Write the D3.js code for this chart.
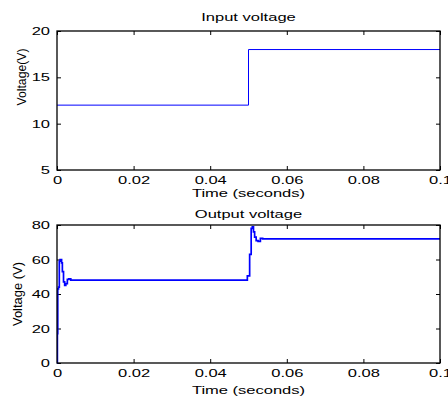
<!DOCTYPE html>
<html>
<head>
<meta charset="utf-8">
<script src="https://cdn.jsdelivr.net/npm/d3@7"></script>
<style>
  html, body { margin: 0; padding: 0; background: #fff; overflow: hidden; }
  svg { display: block; }
  text { font-family: "Liberation Sans", Arial, Helvetica, sans-serif; fill: #000; }
</style>
</head>
<body>
<svg id="chart" width="448" height="396"></svg>
<script>
// Shared time axis
const timeTicks = [0, 0.02, 0.04, 0.06, 0.08, 0.1];
const timeTickLabels = ["0", "0.02", "0.04", "0.06", "0.08", "0.1"];

// Input voltage: step from 12 V to 18 V at 0.05 s
const inputTime = [0, 0.05, 0.1];
const inputVolts = [12, 18, 18];
const inputTicks = [5, 10, 15, 20];

// Output voltage response
const outputTime = [0, 0.0001, 0.0002, 0.0004, 0.0006, 0.0008, 0.0012, 0.0014, 0.0017, 0.0020,
  0.0023, 0.0027, 0.0031, 0.0036, 0.0497, 0.0503, 0.0507, 0.0510, 0.0513, 0.0516,
  0.0520, 0.0525, 0.0531, 0.0537, 0.1];
const outputVolts = [0, 17, 43, 44, 59, 60, 58, 53, 47, 45,
  46, 48.5, 48.8, 48, 50.5, 63, 78, 79, 76, 73,
  71, 70.5, 72.3, 72, 72];
const outputTicks = [0, 20, 40, 60, 80];

const svg = d3.select("#chart");
const FS = 11;
const STRETCH = 1.5;

// widen text horizontally, the way the exported figure renders it
function stretch(sel, factor) {
  sel.each(function () {
    const w = this.getComputedTextLength();
    d3.select(this).attr("textLength", w * factor).attr("lengthAdjust", "spacingAndGlyphs");
  });
}

function panel(cfg) {
  const { left, right, top, bottom } = cfg;
  const x = d3.scaleLinear().domain([0, 0.1]).range([left, right]);
  const y = d3.scaleLinear().domain(cfg.yDomain).range([bottom, top]);
  const g = svg.append("g");

  const clipId = "clip" + cfg.id;
  svg.append("clipPath").attr("id", clipId)
    .append("rect").attr("x", left).attr("y", top - 1)
    .attr("width", right - left).attr("height", bottom - top + 2);

  // bottom axis with labels
  const ax = g.append("g").attr("transform", `translate(0,${bottom})`)
    .call(d3.axisBottom(x).tickValues(timeTicks).tickSize(-4).tickPadding(6)
      .tickFormat((d, i) => timeTickLabels[i]));
  // top axis ticks
  g.append("g").attr("transform", `translate(0,${top})`)
    .call(d3.axisTop(x).tickValues(timeTicks).tickSize(-4).tickFormat(""));
  // left axis with labels
  const ay = g.append("g").attr("transform", `translate(${left},0)`)
    .call(d3.axisLeft(y).tickValues(cfg.yTicks).tickSize(-4).tickPadding(7));
  // right axis ticks
  g.append("g").attr("transform", `translate(${right},0)`)
    .call(d3.axisRight(y).tickValues(cfg.yTicks).tickSize(-4).tickFormat(""));

  g.selectAll(".domain").remove();
  g.selectAll(".tick line").attr("stroke", "#000").attr("stroke-width", 1);
  g.selectAll(".tick text").attr("font-size", FS).attr("font-family", null).attr("fill", "#000");
  stretch(ax.selectAll(".tick text"), STRETCH);
  stretch(ay.selectAll(".tick text"), STRETCH);

  // data line
  const line = d3.line().x(d => x(d[0])).y(d => y(d[1])).curve(d3.curveStepAfter);
  const pts = cfg.t.map((t, i) => [t, cfg.v[i]]);
  g.append("path").datum(pts)
    .attr("clip-path", `url(#${clipId})`)
    .attr("fill", "none").attr("stroke", "#0000ff")
    .attr("stroke-width", cfg.lineWidth)
    .attr("d", line);

  // axes box
  g.append("rect").attr("x", left).attr("y", top)
    .attr("width", right - left).attr("height", bottom - top)
    .attr("fill", "none").attr("stroke", "#000").attr("stroke-width", 1.3);

  // titles
  const cx = (left + right) / 2;
  stretch(g.append("text").attr("x", cx).attr("y", cfg.titleY)
    .attr("text-anchor", "middle").attr("font-size", FS).text(cfg.title), STRETCH);
  stretch(g.append("text").attr("x", cx).attr("y", cfg.xLabelY)
    .attr("text-anchor", "middle").attr("font-size", FS).text("Time (seconds)"), STRETCH);
  g.append("text")
    .attr("transform", `translate(${cfg.yLabelX},${cfg.yLabelCY}) rotate(-90)`)
    .attr("text-anchor", "middle").attr("font-size", 13)
    .attr("textLength", cfg.yLabelLen).attr("lengthAdjust", "spacingAndGlyphs")
    .text(cfg.yLabel);
}

panel({
  id: "in", left: 57, right: 440, top: 31, bottom: 170,
  yDomain: [5, 20], yTicks: inputTicks,
  t: inputTime, v: inputVolts, lineWidth: 1,
  title: "Input voltage", titleY: 20.5, xLabelY: 197,
  yLabel: "Voltage(V)", yLabelX: 26, yLabelCY: 77, yLabelLen: 57
});

panel({
  id: "out", left: 57, right: 440, top: 225, bottom: 363,
  yDomain: [0, 80], yTicks: outputTicks,
  t: outputTime, v: outputVolts, lineWidth: 1.7,
  title: "Output voltage", titleY: 218, xLabelY: 393.5,
  yLabel: "Voltage (V)", yLabelX: 22, yLabelCY: 294, yLabelLen: 64
});
</script>
</body>
</html>
